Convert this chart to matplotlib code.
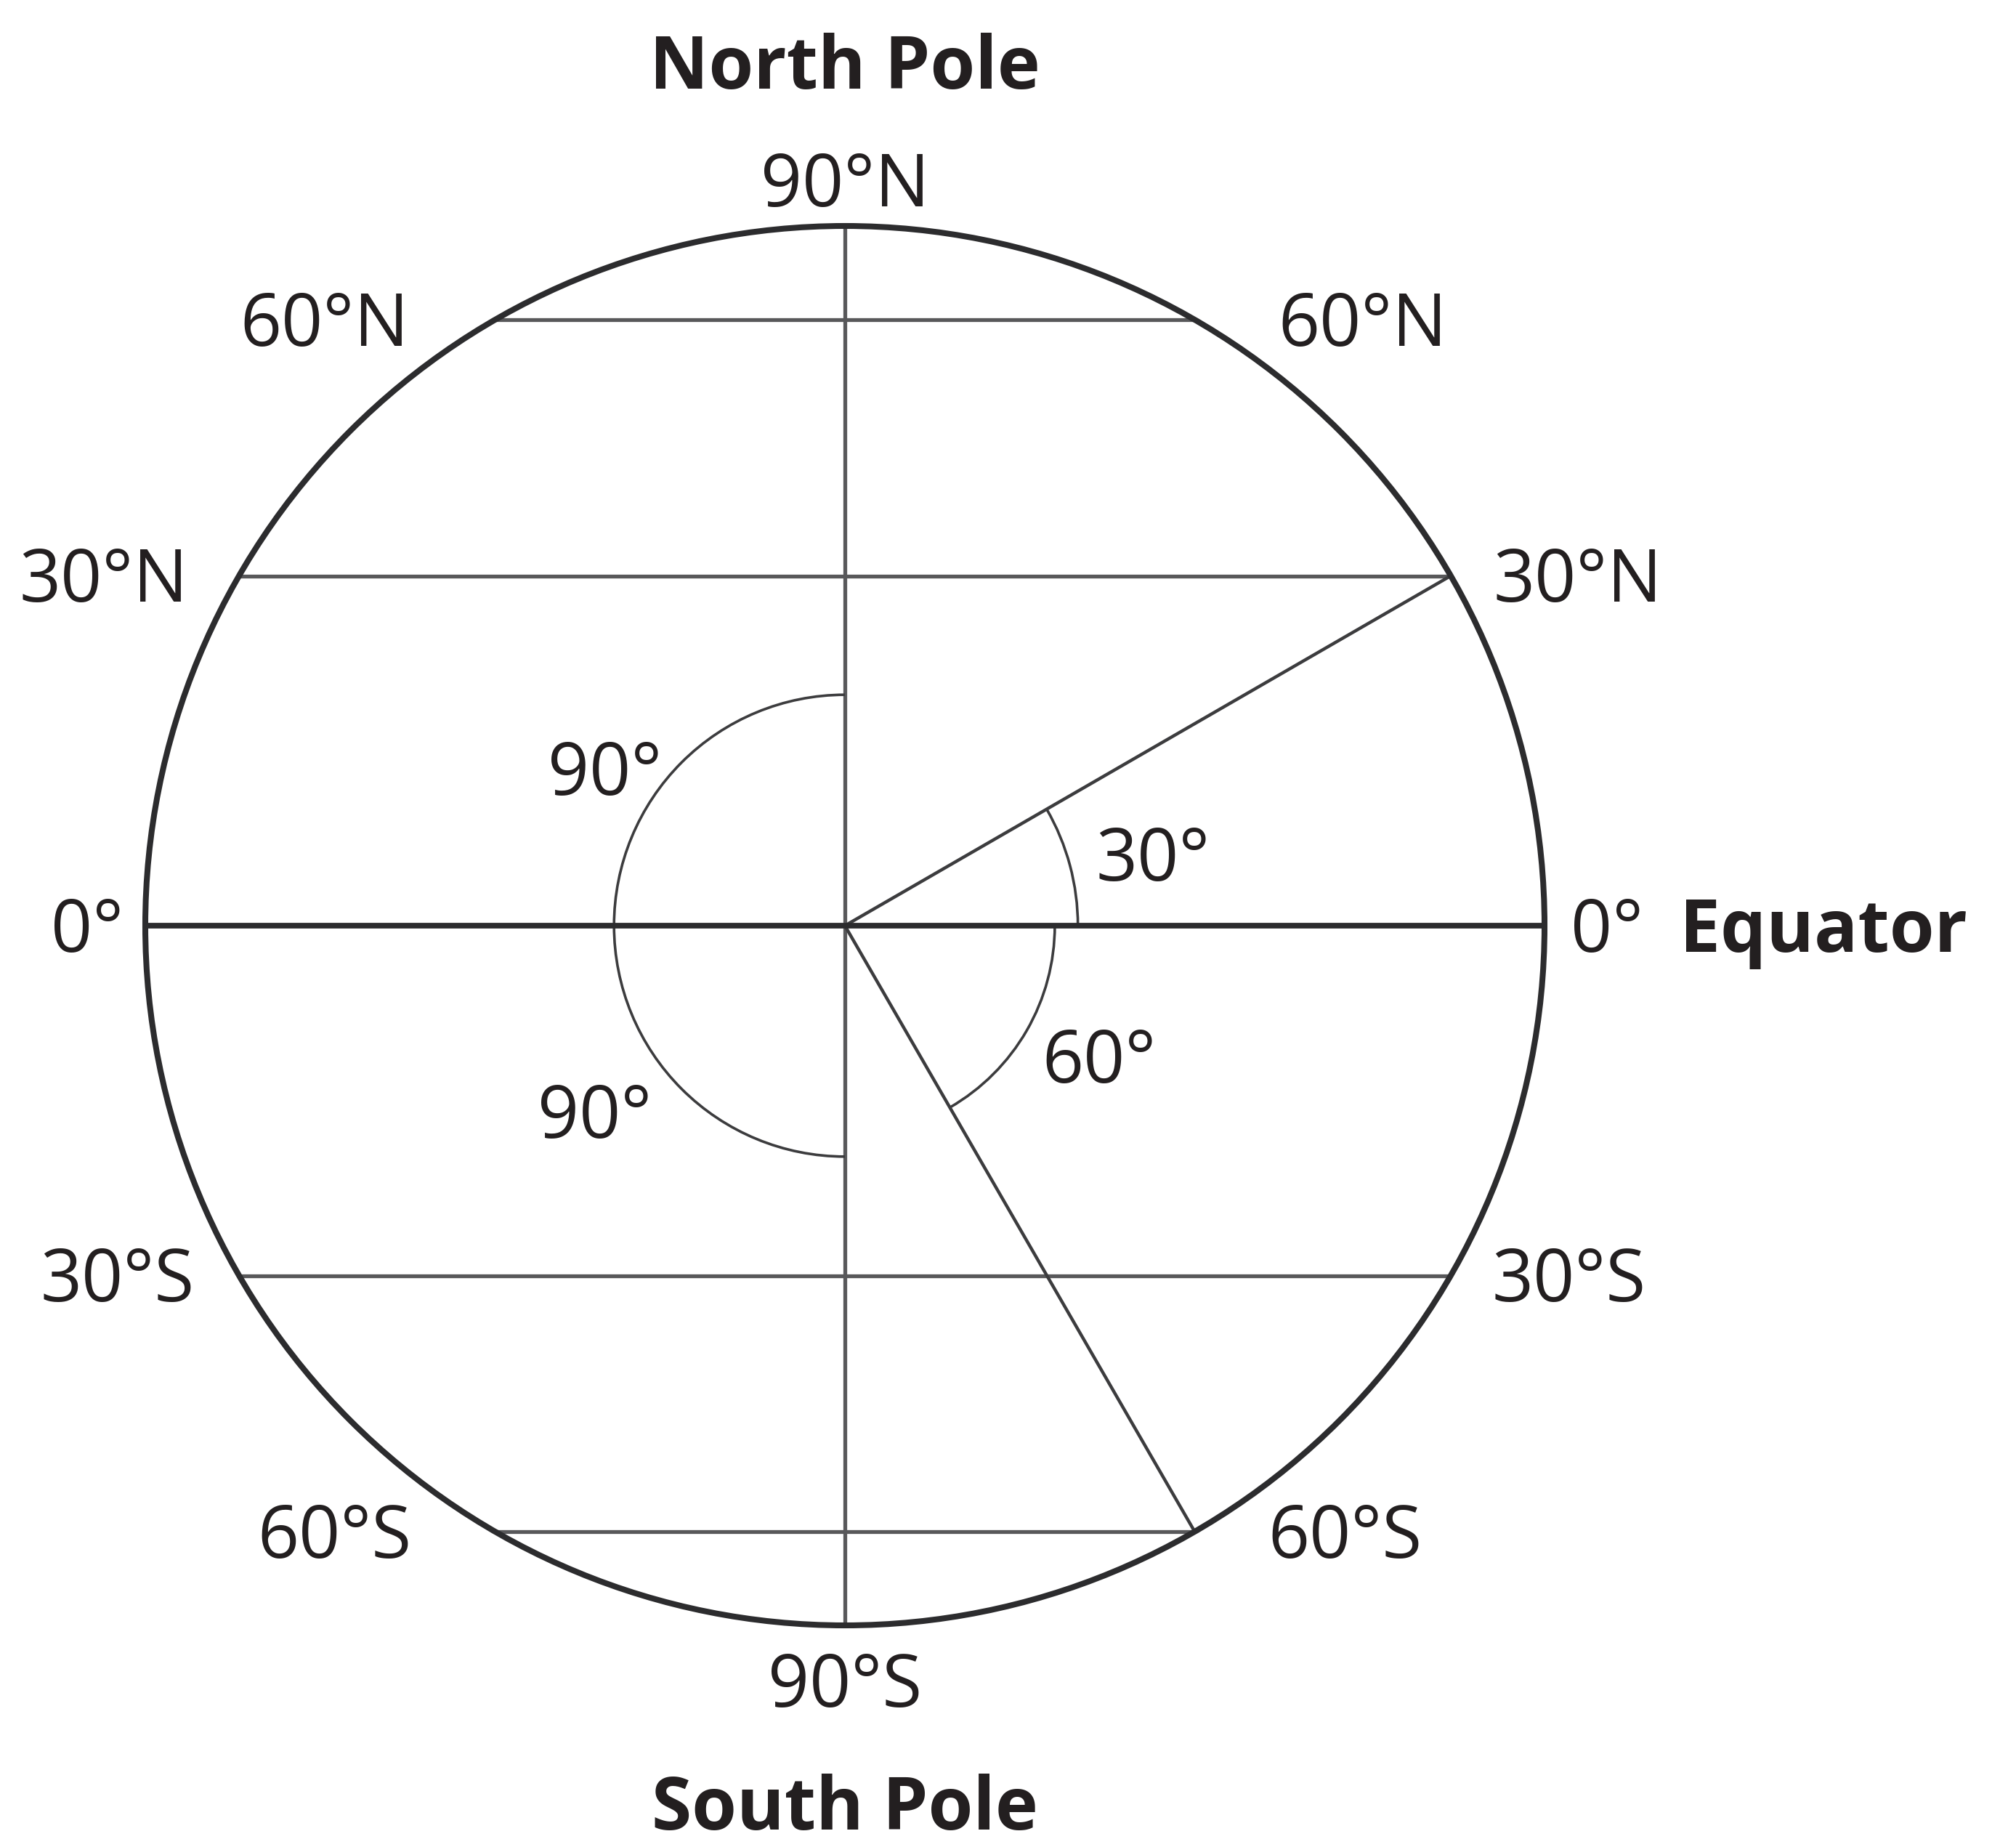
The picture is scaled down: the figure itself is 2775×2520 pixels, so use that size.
import numpy as np
import matplotlib
matplotlib.use("Agg")
import matplotlib.pyplot as plt
from matplotlib.patches import Circle, Arc

# ---- chart content -------------------------------------------------------
LATITUDES = [60, 30, 0, -30, -60]
LAT_LABELS = ["60°N", "30°N", "0°", "30°S", "60°S"]
POLE_LABELS = ["90°N", "90°S"]
POLE_NAMES = ["North Pole", "South Pole"]
EQUATOR_NAME = "Equator"

# rays drawn from the centre to the circle (degrees from the equator)
RAY_ANGLES = [30, -60]

# angle arcs and the angle they mark
ARC_START = [90, 180, 0, -60]
ARC_END = [180, 270, 30, 0]
ARC_LABELS = ["90°", "90°", "30°", "60°"]

# ---- layout ---------------------------------------------------------------
W_PX, H_PX = 2775, 2520
CX_PX, CY_PX, R_PX = 1163, 1274, 963     # circle centre / radius in pixels

ARC_RADIUS = [0.33, 0.33, 0.333, 0.30]
ARC_LABEL_POS = [(-0.343, 0.224), (-0.358, -0.266), (0.44, 0.101), (0.363, -0.187)]
GAP_LEFT = [0.123, 0.073, 0.031, 0.064, 0.119]
GAP_RIGHT = [0.119, 0.061, 0.037, 0.059, 0.105]

TXT = "#231f20"
DARK = "#2c2c2e"
RAY = "#3c3c3e"
GREY = "#58585a"
FS = 72
FS_BOLD = 72
FONT = "Open Sans"

# half cap height in data units (cap ~0.714 em)
HALF_CAP = 0.5 * 0.714 * FS * 100 / 72 / R_PX
HALF_CAP_B = 0.5 * 0.714 * FS_BOLD * 100 / 72 / R_PX


def label(ax, x, y, s, ha="center", bold=False):
    size = FS_BOLD if bold else FS
    half = HALF_CAP_B if bold else HALF_CAP
    ax.text(x, y - half, s, ha=ha, va="baseline", fontsize=size,
            family=FONT, weight="bold" if bold else "normal", color=TXT)


fig = plt.figure(figsize=(W_PX / 100, H_PX / 100), dpi=100)
ax = fig.add_axes([0, 0, 1, 1])
ax.set_xlim(-CX_PX / R_PX, (W_PX - CX_PX) / R_PX)
ax.set_ylim(-(H_PX - CY_PX) / R_PX, CY_PX / R_PX)
ax.axis("off")

# globe outline
ax.add_patch(Circle((0, 0), 1.0, fill=False, ec=DARK, lw=5.8, zorder=4))

# latitude lines
for lat, name, gl, gr in zip(LATITUDES, LAT_LABELS, GAP_LEFT, GAP_RIGHT):
    y = np.sin(np.radians(lat))
    half = np.cos(np.radians(lat))
    if lat == 0:
        ax.plot([-half, half], [y, y], color=DARK, lw=5.6, solid_capstyle="butt", zorder=3)
    else:
        ax.plot([-half, half], [y, y], color=GREY, lw=3.8, solid_capstyle="butt", zorder=2)
    label(ax, -half - gl, y, name, ha="right")
    label(ax, half + gr, y, name, ha="left")

# polar axis
ax.plot([0, 0], [-1, 1], color=GREY, lw=3.8, solid_capstyle="butt", zorder=2)

# rays
for a in RAY_ANGLES:
    t = np.radians(a)
    ax.plot([0, np.cos(t)], [0, np.sin(t)], color=RAY, lw=3.2, zorder=2)

# angle arcs
for t1, t2, r, (lx, ly), s in zip(ARC_START, ARC_END, ARC_RADIUS, ARC_LABEL_POS, ARC_LABELS):
    ax.add_patch(Arc((0, 0), 2 * r, 2 * r, theta1=t1, theta2=t2,
                     ec=RAY, lw=2.6, zorder=2))
    label(ax, lx, ly, s)

# pole labels
ax.text(0, 1.028, POLE_LABELS[0], ha="center", va="baseline", fontsize=FS,
        family=FONT, color=TXT)
ax.text(0, -1.042 - 2 * HALF_CAP, POLE_LABELS[1], ha="center", va="baseline",
        fontsize=FS, family=FONT, color=TXT)
ax.text(0, 1.196, POLE_NAMES[0], ha="center", va="baseline", fontsize=FS_BOLD,
        family=FONT, weight="bold", color=TXT)
ax.text(0, -1.292, POLE_NAMES[1], ha="center", va="baseline", fontsize=FS_BOLD,
        family=FONT, weight="bold", color=TXT)

# equator name
label(ax, 1.193, 0, EQUATOR_NAME, ha="left", bold=True)

fig.savefig("out.png", dpi=100, facecolor="white")
